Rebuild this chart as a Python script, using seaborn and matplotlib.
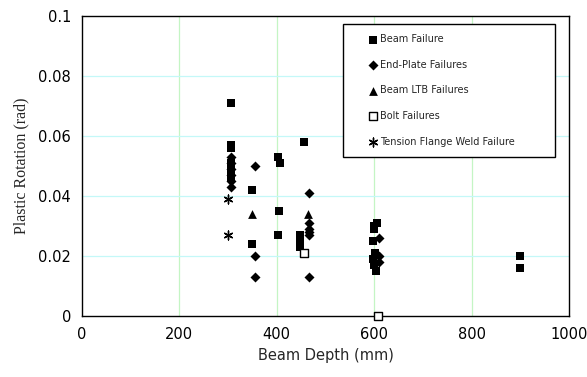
import pandas as pd
import matplotlib
matplotlib.use("Agg")
import matplotlib.pyplot as plt
import seaborn as sns

# Data (beam depth in mm, plastic rotation in rad)
beam_x = [305, 305, 305, 305, 305, 305, 305, 350, 350, 403, 407, 405, 403,
          455, 448, 448, 448, 600, 606, 600, 598, 602, 598, 600, 603, 900, 900]
beam_y = [0.071, 0.057, 0.056, 0.051, 0.049, 0.047, 0.046, 0.042, 0.024, 0.053, 0.051, 0.035, 0.027,
          0.058, 0.027, 0.025, 0.023, 0.030, 0.031, 0.029, 0.025, 0.021, 0.019, 0.017, 0.015, 0.020, 0.016]

endplate_x = [305, 305, 305, 305, 305, 305, 355, 355, 355,
              467, 467, 467, 467, 467, 467, 610, 610, 610]
endplate_y = [0.053, 0.051, 0.049, 0.047, 0.045, 0.043, 0.050, 0.020, 0.013,
              0.041, 0.031, 0.029, 0.028, 0.027, 0.013, 0.026, 0.020, 0.018]

ltb_x = [350, 465]
ltb_y = [0.034, 0.034]

bolt_x = [455, 608]
bolt_y = [0.021, 0.0]

tension_x = [300, 300]
tension_y = [0.039, 0.027]

x_ticks = [0, 200, 400, 600, 800, 1000]
y_ticks = [0, 0.02, 0.04, 0.06, 0.08, 0.1]
y_ticklabels = ["0", "0.02", "0.04", "0.06", "0.08", "0.1"]

sns.set_style("white")
plt.rcParams["font.family"] = ["DejaVu Sans"]

fig = plt.figure(figsize=(5.87, 3.77), dpi=100)
ax = fig.add_axes([0.1397, 0.1618, 0.8296, 0.7958])

# grid: green verticals, cyan horizontals
for xv in x_ticks[1:-1]:
    ax.axvline(xv, color="#c4f5c4", lw=0.9, zorder=0)
for yv in y_ticks[1:-1]:
    ax.axhline(yv, color="#c4f8f8", lw=0.9, zorder=0)

sns.scatterplot(x=beam_x, y=beam_y, marker="s", s=34, color="black",
                edgecolor="black", linewidth=0, label="Beam Failure", ax=ax, zorder=3)
sns.scatterplot(x=endplate_x, y=endplate_y, marker="D", s=26, color="black",
                edgecolor="black", linewidth=0, label="End-Plate Failures", ax=ax, zorder=3)
sns.scatterplot(x=ltb_x, y=ltb_y, marker="^", s=40, color="black",
                edgecolor="black", linewidth=0, label="Beam LTB Failures", ax=ax, zorder=3)
sns.scatterplot(x=bolt_x, y=bolt_y, marker="s", s=30, facecolor="white",
                edgecolor="black", linewidth=1.0, label="Bolt Failures", ax=ax, zorder=4,
                clip_on=False)
sns.scatterplot(x=tension_x, y=tension_y, marker=(6, 2, 0), s=40, color="black",
                linewidth=1.0, label="Tension Flange Weld Failure", ax=ax, zorder=3)

ax.set_xlim(0, 1000)
ax.set_ylim(0, 0.1)
ax.set_xticks(x_ticks)
ax.set_yticks(y_ticks)
ax.set_yticklabels(y_ticklabels)
ax.tick_params(direction="in", length=3, width=0.8, labelsize=10.5, colors="black", pad=8)
for sp in ax.spines.values():
    sp.set_visible(True)
    sp.set_color("black")
    sp.set_linewidth(1.0)

ax.set_xlabel("Beam Depth (mm)", fontsize=10.5, labelpad=4)
ax.set_ylabel("Plastic Rotation (rad)", fontsize=11.5, family="Liberation Serif", labelpad=6)

leg = ax.legend(loc="upper left", bbox_to_anchor=(0.536, 0.533, 0.435, 0.44),
                mode="expand", fontsize=7,
                frameon=True, fancybox=False, edgecolor="black", framealpha=1,
                labelspacing=1.6, borderpad=1.05, handletextpad=-1.2,
                handlelength=4.0, borderaxespad=0)
leg.get_frame().set_linewidth(1.0)

fig.savefig("out.png", dpi=100)
